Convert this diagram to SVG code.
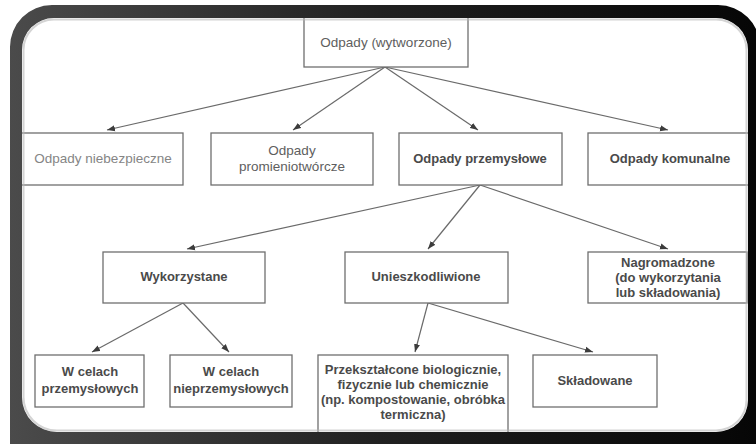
<svg xmlns="http://www.w3.org/2000/svg" width="756" height="444" viewBox="0 0 756 444">
  <style>
    .box { fill: #ffffff; stroke: #6f6f6f; stroke-width: 1.3; }
    .lbl { font-family: "Liberation Sans", Arial, sans-serif; font-size: 13.5px; fill: #5e5e5e; text-anchor: middle; }
    .b { font-weight: bold; font-size: 13px; fill: #4a4a4a; }
    .light { fill: #858585; }
    .edge { stroke: #6a6a6a; stroke-width: 1.2; fill: none; marker-end: url(#arrow); }
  </style>
  <defs>
    <marker id="arrow" markerUnits="userSpaceOnUse" markerWidth="9" markerHeight="7" refX="8" refY="3.5" orient="auto">
      <path d="M0,0.5 L8,3.5 L0,6.5 Z" fill="#3c3c3c"/>
    </marker>
    <linearGradient id="frameGrad" x1="0" y1="0" x2="1" y2="0">
      <stop offset="0" stop-color="#4d4d4d"/>
      <stop offset="0.5" stop-color="#202020"/>
      <stop offset="1" stop-color="#050505"/>
    </linearGradient>
  </defs>

  <rect x="0" y="0" width="756" height="444" fill="#ffffff"/>

  <g id="connectors">
    <line class="edge" x1="385" y1="67" x2="107" y2="130"/>
    <line class="edge" x1="385" y1="67" x2="293" y2="130"/>
    <line class="edge" x1="385" y1="67" x2="478" y2="130"/>
    <line class="edge" x1="385" y1="67" x2="668" y2="130"/>
    <line class="edge" x1="480" y1="185" x2="187" y2="249"/>
    <line class="edge" x1="480" y1="185" x2="428" y2="249"/>
    <line class="edge" x1="480" y1="185" x2="668" y2="249"/>
    <line class="edge" x1="183" y1="303" x2="92" y2="352"/>
    <line class="edge" x1="183" y1="303" x2="229" y2="352"/>
    <line class="edge" x1="428" y1="303" x2="415" y2="352"/>
    <line class="edge" x1="428" y1="303" x2="593" y2="352"/>
  </g>

  <g id="wytworzone">
    <rect class="box" x="304" y="8" width="164" height="59"/>
    <text class="lbl" x="386" y="47">Odpady (wytworzone)</text>
  </g>

  <g id="niebezpieczne">
    <rect class="box" x="14" y="133" width="169" height="52"/>
    <text class="lbl light" x="103" y="163">Odpady niebezpieczne</text>
  </g>

  <g id="promieniotworcze">
    <rect class="box" x="211" y="133" width="162" height="52"/>
    <text class="lbl" x="292" y="155">Odpady</text>
    <text class="lbl" x="292" y="171">promieniotwórcze</text>
  </g>

  <g id="przemyslowe">
    <rect class="box" x="399" y="133" width="163" height="52"/>
    <text class="lbl b" x="480" y="163">Odpady przemysłowe</text>
  </g>

  <g id="komunalne">
    <rect class="box" x="588" y="133" width="172" height="52"/>
    <text class="lbl b" x="670" y="163">Odpady komunalne</text>
  </g>

  <g id="wykorzystane">
    <rect class="box" x="103" y="252" width="162" height="51"/>
    <text class="lbl b" x="184" y="281">Wykorzystane</text>
  </g>

  <g id="unieszkodliwione">
    <rect class="box" x="345" y="252" width="163" height="51"/>
    <text class="lbl b" x="426" y="281">Unieszkodliwione</text>
  </g>

  <g id="nagromadzone">
    <rect class="box" x="588" y="252" width="159" height="51"/>
    <text class="lbl b" x="668" y="267">Nagromadzone</text>
    <text class="lbl b" x="668" y="282">(do wykorzytania</text>
    <text class="lbl b" x="668" y="297">lub składowania)</text>
  </g>

  <g id="cele-przemyslowe">
    <rect class="box" x="35" y="355" width="109" height="52"/>
    <text class="lbl b" x="90" y="376">W celach</text>
    <text class="lbl b" x="90" y="393">przemysłowych</text>
  </g>

  <g id="cele-nieprzemyslowe">
    <rect class="box" x="170" y="355" width="122" height="52"/>
    <text class="lbl b" x="231" y="376">W celach</text>
    <text class="lbl b" x="231" y="393">nieprzemysłowych</text>
  </g>

  <g id="przeksztalcone">
    <rect class="box" x="318" y="355" width="190" height="90"/>
    <text class="lbl b" x="413" y="374">Przekształcone biologicznie,</text>
    <text class="lbl b" x="413" y="389">fizycznie lub chemicznie</text>
    <text class="lbl b" x="413" y="404">(np. kompostowanie, obróbka</text>
    <text class="lbl b" x="413" y="419">termiczna)</text>
  </g>

  <g id="skladowane">
    <rect class="box" x="533" y="355" width="124" height="52"/>
    <text class="lbl b" x="595" y="385">Składowane</text>
  </g>

  <!-- rounded dark frame drawn over the sheet edges -->
  <g id="frame">
    <path fill="url(#frameGrad)" fill-rule="evenodd"
      d="M-10,-10 H770 V460 H-10 Z
         M54,18 H716 A32,32 0 0 1 748,50 V400 A32,32 0 0 1 716,432 H57 A35,35 0 0 1 22,397 V50 A32,32 0 0 1 54,18 Z"/>
    <path fill="#ffffff" fill-rule="evenodd"
      d="M-10,-10 H770 V460 H-10 Z
         M50,5 H718 A42,42 0 0 1 760,47 V460 H10 V47 A42,42 0 0 1 52,5 Z"/>
    <path fill="none" stroke="#b8b8b8" stroke-width="2" opacity="0.6"
      d="M54,19.5 H716 A30.5,30.5 0 0 1 746.5,50 V400 A30.5,30.5 0 0 1 716,430.5 H57 A33.5,33.5 0 0 1 23.5,397 V50 A30.5,30.5 0 0 1 54,19.5 Z"/>
  </g>
</svg>
